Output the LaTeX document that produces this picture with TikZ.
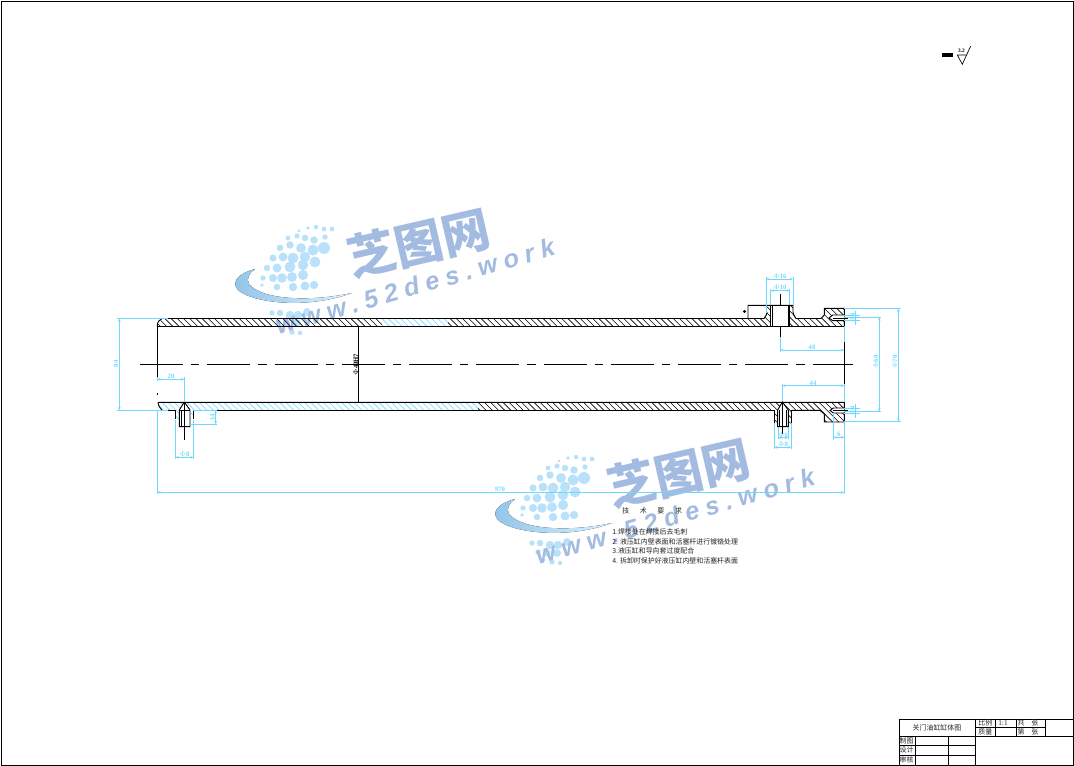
\documentclass[tikz,border=0pt]{standalone}
\usepackage{fontspec}
\setmainfont{Liberation Serif}
\newfontfamily\cjk{Noto Sans CJK SC}
\newfontfamily\wmfont[LetterSpace=26]{Liberation Sans}
\usetikzlibrary{arrows.meta,positioning,calc}
\definecolor{dimcyan}{HTML}{70D8FF}
\definecolor{wmblue}{HTML}{A3BBE0}
\definecolor{wmdotc}{HTML}{B9E1FA}
\definecolor{swoopl}{HTML}{93C4E8}
\definecolor{swoopr}{HTML}{D8F2FF}
\newcommand{\wallhatch}[3]{%
  \begin{scope}
    \clip (#1,290) rectangle (#2,440);
    \foreach \h in {0,6.2,...,860} \draw[hatchline,#3] (\h,290) -- (\h+150,440);
  \end{scope}}
\newcommand{\wmark}[2]{%
  \begin{scope}[shift={(#1,#2)}]
    \fill[left color=swoopl, right color=swoopr]
      (255,269) .. controls (240,273) and (233,280) .. (236,287)
      .. controls (241,300) and (300,312) .. (352,293)
      .. controls (310,302) and (262,300) .. (249,284)
      .. controls (246,279) and (249,273) .. (255,269) -- cycle;
    \foreach \dx/\dy/\dr in {299/231/1.1,308/228/1.2,316/227/1.5,324/229/1.6,332/229/1.6,
      288/238/1.6,297/236/1.8,305/238/2.2,314/240/2.5,325/237/1.8,
      280/248/2.2,290/245/2.5,301/248/3.3,313/250/3.7,324/248/4,
      273/258/2.4,283/257/3,293/258/3.6,305/257/3.5,315/262/3.6,
      267/268/2.2,277/268/3,290/267/3.6,303/265/3.5,
      263/278/1.8,273/278/2.7,282/278/3.2,292/277/3.3,303/275/3.4,
      262/285/1.3,277/287/2.2,293/287/2.8,305/286/3,314/285/2.8,
      272/313/1.8,280/313/2.2,290/315/2.8,298/315/2.8,307/312/2.6,
      278/322/1.8,287/323/2.4,297/323/2.6,283/330/1.5,292/332/1.8,300/333/1.5}
      \fill[wmdotc] (\dx,\dy) circle [radius=\dr*1.5];
    \node[rotate=13, text=wmblue, font=\cjk\bfseries\fontsize{36}{36}\selectfont] (wmname#1) at (419,243) {芝图网};
    \node[rotate=16, text=wmblue, font=\wmfont\bfseries\itshape\fontsize{19}{19}\selectfont] (wmsite#1) at (415,286) {www.52des.work};
  \end{scope}}
\begin{document}
\begin{tikzpicture}[
    x=0.75pt, y=-0.75pt,
    outline/.style={line width=0.7pt, black},
    hatchline/.style={line width=0.45pt},
    dimline/.style={line width=0.7pt, dimcyan},
    dimarrow/.style={dimline, {Stealth[length=2.5pt,width=2pt]}-{Stealth[length=2.5pt,width=2pt]}},
    dimlabel/.style={text=dimcyan, inner sep=0pt, font=\bfseries\fontsize{5}{5}\selectfont},
    centerline/.style={line width=0.7pt, dash pattern=on 32.25pt off 6pt on 6.2pt off 6pt},
    cell/.style={inner sep=0pt, text=black!85, font=\cjk\fontsize{5.2}{5.2}\selectfont},
    noteline/.style={cell, anchor=west},
]
    \useasboundingbox (0,0) rectangle (1074,766);

    % Watermarks
    \wmark{0}{0}
    \wmark{260}{230}

    % Frame
    \draw[line width=0.5pt] (1,1) rectangle (1073,765);

    % Upper wall hatching
    \begin{scope}
        \clip (162,318.5) -- (764,318.5) -- (767,312) -- (767,305.3) -- (770.7,305.3) -- (770.7,326) -- (157.3,326) -- cycle
              (789,305.3) -- (793,305.3) -- (793,312) -- (796,318.5) -- (821,318.5) -- (824.3,315) -- (824.3,308.3) -- (844.3,308.3) -- (844.3,326) -- (789,326) -- cycle;
        \wallhatch{150}{382}{black}
        \wallhatch{382}{448}{dimcyan}
        \wallhatch{448}{850}{black}
    \end{scope}

    % Lower wall hatching
    \begin{scope}
        \clip (158,402.3) -- (844.3,402.3) -- (844.3,422) -- (824.3,422) -- (824.3,414) -- (820,410.3) -- (791.3,410.3) -- (791.3,423.3) -- (774.3,423.3) -- (774.3,410.3)
              -- (193.7,410.3) -- (193.7,419) -- (175.3,419) -- (175.3,410.3) -- (162,410.3) -- cycle;
        \wallhatch{150}{478}{dimcyan}
        \wallhatch{478}{850}{black}
    \end{scope}

    % Tube outline, upper
    \draw[outline] (157.3,326) .. controls (157.3,322) and (159,320) .. (162,318.5) -- (764,318.5)
        .. controls (766,316) and (767,314) .. (767,312);
    \draw[outline] (157.3,326) -- (844.3,326);
    \draw[outline] (157.3,326) -- (157.3,377) (157.3,393) -- (157.3,395);
    \draw[outline] (748,318.5) -- (748,305.3) -- (793,305.3) -- (793,312) .. controls (793,314) and (794,316) .. (796,318.5) -- (821,318.5) -- (824.3,315) -- (824.3,308.3) -- (844.3,308.3) -- (844.3,326);
    \draw[outline] (770.7,305.3) -- (770.7,326) (772.7,305.3) -- (772.7,326) (788,305.3) -- (788,326) (789.7,305.3) -- (789.7,326);
    \fill (744.5,311.5) circle [radius=1.6];

    % Tube outline, lower
    \draw[outline] (158,402.3) -- (844.3,402.3) -- (844.3,422) -- (824.3,422) -- (824.3,414) -- (820,410.3) -- (791.3,410.3);
    \draw[outline] (162,410.3) .. controls (160,408) and (158.5,406) .. (158,402.3);
    \draw[outline] (168,410.3) -- (175.3,410.3) -- (175.3,419);
    \draw[outline] (193.7,410.3) -- (774.3,410.3);
    \draw[outline] (193.7,410.3) -- (193.7,419);

    % Seal grooves
    \filldraw[outline, fill=white] (844.3,315) -- (832.7,315) -- (829,318) -- (832.7,320.7) -- (844.3,320.7);
    \draw[outline] (832.7,318) -- (848,318);
    \filldraw[outline, fill=white] (844.3,408) -- (833.3,408) -- (830,410.5) -- (833.3,413) -- (844.3,413);
    \draw[outline] (833.3,410.5) -- (848,410.5);

    % Threaded port, left
    \filldraw[outline, fill=white] (179.3,410) -- (184.3,402) -- (190,410) -- (190,426.7) -- (179.3,426.7) -- cycle;
    \draw[outline] (179.3,410) -- (190,410) (181,410) -- (181,426.7);
    \draw[outline] (184.3,401.7) -- (184.3,440);

    % Threaded port, right
    \draw[outline] (774.3,410.3) -- (774.3,423.3) (791.3,410.3) -- (791.3,423.3);
    \filldraw[outline, fill=white] (777.7,410) -- (782.3,402) -- (788.3,410) -- (788.3,426.7) -- (777.7,426.7) -- cycle;
    \draw[outline] (779.5,410) -- (779.5,426.7) (786.5,410) -- (786.5,426.7);
    \draw[outline] (782.3,401.7) -- (782.3,434);

    % Centre lines
    \draw[centerline] (140,364.5) -- (853,364.5);
    \draw[outline] (780.3,294) -- (780.3,305) (780.3,326) -- (780.3,337);
    \draw[outline] (358.3,326) -- (358.3,402.3);
    \draw[outline] (844.3,342) -- (844.3,384);
    \node[rotate=90, inner sep=0pt, font=\bfseries\fontsize{5}{5}\selectfont] (borelabel) at (355.8,364.5) {$\Phi$40H7};

    % Dimensions, left end
    \draw[dimline] (117,318.5) -- (168,318.5) (117,410.3) -- (168,410.3);
    \draw[dimarrow] (119.3,318.5) -- (119.3,410.3);
    \node[dimlabel, rotate=90] (dimheight) at (116,364) {84};
    \draw[dimline] (157.3,377) -- (157.3,381) (184.3,377) -- (184.3,402);
    \draw[dimarrow] (157.3,379.3) -- (184.3,379.3);
    \node[dimlabel] (dimleft) at (171,376.5) {20};
    \draw[dimline] (175.3,420) -- (175.3,459) (193.7,420) -- (193.7,459);
    \draw[dimarrow] (175.3,457.3) -- (193.7,457.3);
    \node[dimlabel] (dimport) at (184.5,454.5) {$\Phi$8};
    \draw[dimline] (190,424.3) -- (217,424.3) (193,410.3) -- (217,410.3);
    \draw[dimarrow] (215.7,410.3) -- (215.7,424.3);
    \node[dimlabel, rotate=90] (dimdepth) at (212.5,417) {14};

    % Dimensions, overall length
    \draw[dimline] (157.3,410.3) -- (157.3,494) (844.3,422) -- (844.3,494);
    \draw[dimarrow] (157.3,492.3) -- (844.3,492.3);
    \node[dimlabel] (dimtotal) at (500,489.5) {970};

    % Dimensions, upper port
    \draw[dimline] (766,313) -- (766,277) (793,305) -- (793,277) (770.7,305) -- (770.7,289) (789.7,305) -- (789.7,289);
    \draw[dimarrow] (766,279) -- (793,279);
    \draw[dimarrow] (770.7,290.7) -- (789.7,290.7);
    \node[dimlabel] (dimouter) at (780,276) {$\Phi$16};
    \node[dimlabel] (diminner) at (780,287.7) {$\Phi$10};
    \draw[dimline] (780.3,337) -- (780.3,352) (844.3,326) -- (844.3,342);
    \draw[dimarrow] (780.3,350) -- (844.3,350);
    \node[dimlabel] (dimupper) at (812,347.3) {48};

    % Dimensions, lower port
    \draw[dimline] (782.3,384) -- (782.3,401) (844.3,384) -- (844.3,402);
    \draw[dimarrow] (782.3,385.7) -- (844.3,385.7);
    \node[dimlabel] (dimlower) at (813,383) {44};
    \draw[dimline] (774.3,423) -- (774.3,449) (791.3,423) -- (791.3,449) (778.3,427) -- (778.3,439) (788,427) -- (788,439);
    \draw[dimarrow] (774.3,447.3) -- (791.3,447.3);
    \draw[dimarrow] (778.3,437.7) -- (788,437.7);
    \node[dimlabel] (dimlowa) at (783,444.5) {$\Phi$8};
    \node[dimlabel] (dimlowb) at (783,435) {$\Phi$6};

    % Dimensions, flange
    \draw[dimline] (844.3,308.3) -- (901,308.3) (844.3,421.7) -- (901,421.7);
    \draw[dimarrow] (898.3,308.3) -- (898.3,421.7);
    \node[dimlabel, rotate=90] (dimflange) at (895,362) {$\Phi$70};
    \draw[dimline] (844.3,317.3) -- (880.5,317.3) (844.3,411.7) -- (880.5,411.7);
    \draw[dimarrow] (879.3,317.3) -- (879.3,411.7);
    \node[dimlabel, rotate=90] (dimbore) at (876,362) {$\Phi$60};
    \draw[dimline] (844.3,315) -- (860,315) (844.3,320.7) -- (860,320.7) (855,311) -- (855,325);
    \node[dimlabel, rotate=90] (dimgroovea) at (852.5,318) {$\Phi$4};
    \draw[dimline] (844.3,408) -- (860,408) (844.3,413) -- (860,413) (855,404) -- (855,418);
    \node[dimlabel, rotate=90] (dimgrooveb) at (852.5,411) {$\Phi$4};
    \draw[dimline] (833.3,413) -- (833.3,440);
    \draw[dimarrow] (833.3,437.3) -- (844.3,437.3);
    \node[dimlabel] (dimgroove) at (838.8,434.5) {6};

    % Roughness mark
    \fill (941.7,53) rectangle (953,57.5);
    \draw[line width=0.5pt] (967,55) -- (957.3,55) -- (962.3,64.3) -- (970.7,46);
    \node[inner sep=0pt, font=\bfseries\fontsize{4}{4}\selectfont] (roughlabel) at (961.5,51) {3.2};

    % Technical notes
    \node[cell, anchor=west] (notetitle) at (622,511) {技\hspace{8pt}术\hspace{8pt}要\hspace{8pt}求};
    \node[noteline] (noteone) at (612,532) {1.焊接处在焊接后去毛刺};
    \node[noteline] (notetwo) at (612,541.7) {2. 液压缸内壁表面和活塞杆进行镀铬处理};
    \node[noteline] (notethree) at (612,550.7) {3.液压缸和导向套过度配合};
    \node[noteline] (notefour) at (612,560.7) {4. 拆卸时保护好液压缸内壁和活塞杆表面};

    % Title block
    \draw[outline] (899,765) -- (899,719) -- (1073,719);
    \draw[outline] (899,736.7) -- (1073,736.7);
    \draw[outline] (975,727.7) -- (1045.7,727.7);
    \draw[outline] (899,745) -- (975,745) (899,755) -- (975,755);
    \draw[outline] (975,719) -- (975,765) (995.7,719) -- (995.7,736.7) (1016,719) -- (1016,736.7) (1045.7,719) -- (1045.7,736.7);
    \draw[outline] (915.7,736.7) -- (915.7,765) (948.3,736.7) -- (948.3,765);
    \node[cell] (drawname) at (937,728) {关门油缸缸体图};
    \node[cell] (scalekey) at (985.3,723.2) {比例};
    \node[cell, font=\fontsize{5.5}{5.5}\selectfont] (scaleval) at (1003,723.2) {1:1};
    \node[cell] (sheetsum) at (1028,723.2) {共\hspace{5pt}张};
    \node[cell] (masskey) at (985.3,732.2) {质量};
    \node[cell] (sheetnum) at (1028,732.2) {第\hspace{5pt}张};
    \node[cell] (drawn) at (906.5,741) {制图};
    \node[cell] (design) at (906.5,750) {设计};
    \node[cell] (check) at (906.5,760) {审核};
\end{tikzpicture}
\end{document}
